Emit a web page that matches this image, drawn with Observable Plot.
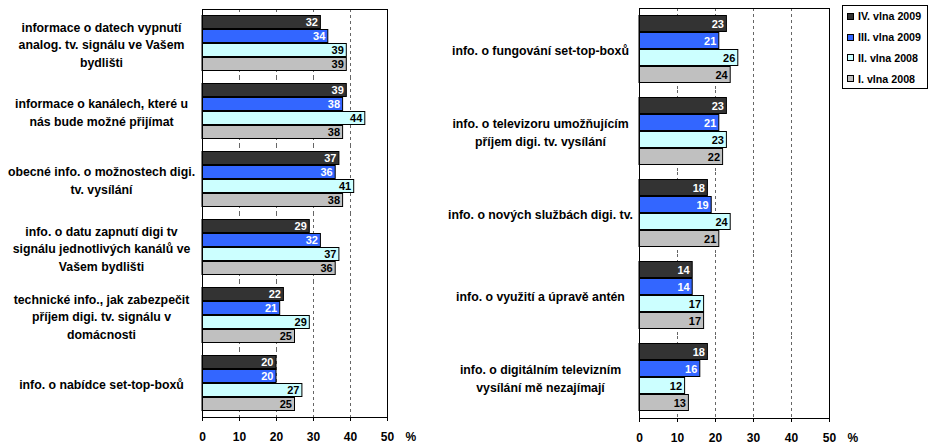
<!DOCTYPE html>
<html><head><meta charset="utf-8">
<script src="https://cdn.jsdelivr.net/npm/d3@7"></script>
<script src="https://cdn.jsdelivr.net/npm/@observablehq/plot@0.6"></script>
<style>
html,body{margin:0;padding:0;background:#fff;}
#wrap{position:relative;width:928px;height:448px;overflow:hidden;font-family:"Liberation Sans",Arial,sans-serif;}
#left{position:absolute;left:0;top:0;}
#right{position:absolute;left:420px;top:0;}
#legend{position:absolute;left:842px;top:5px;width:86px;height:84px;border:1px solid #000;background:#fff;font-weight:bold;font-size:10.7px;box-sizing:border-box;padding-top:0px;}
.item{height:20.8px;display:flex;align-items:center;white-space:nowrap;color:#000;}
.sw{width:5px;height:5px;border:1px solid #000;margin-left:4px;margin-right:4px;flex:none;}
</style></head>
<body><div id="wrap"><div id="left"></div><div id="right"></div><div id="legend"></div></div>
<script>
const series = ["IV. vlna 2009", "III. vlna 2009", "II. vlna 2008", "I. vlna 2008"];
const seriesColors = ["#333333", "#3366ff", "#ccffff", "#c0c0c0"];
const valueLabelColors = ["#ffffff", "#ffffff", "#000000", "#000000"];
const xTicks = [0, 10, 20, 30, 40, 50];
const gridTicks = [10, 20, 30, 40];

const leftCategories = [
  "informace o datech vypnutí\nanalog. tv. signálu ve Vašem\nbydlišti",
  "informace o kanálech, které u\nnás bude možné přijímat",
  "obecné info. o možnostech digi.\ntv. vysílání",
  "info. o datu zapnutí digi tv\nsignálu jednotlivých kanálů ve\nVašem bydlišti",
  "technické info., jak zabezpečit\npříjem digi. tv. signálu v\ndomácnosti",
  "info. o nabídce set-top-boxů"
];
const leftIV  = [32, 39, 37, 29, 22, 20];
const leftIII = [34, 38, 36, 32, 21, 20];
const leftII  = [39, 44, 41, 37, 29, 27];
const leftI   = [39, 38, 38, 36, 25, 25];

const rightCategories = [
  "info. o fungování set-top-boxů",
  "info. o televizoru umožňujícím\npříjem digi. tv. vysílání",
  "info. o nových službách digi. tv.",
  "info. o využití a úpravě antén",
  "info. o digitálním televizním\nvysílání mě nezajímají"
];
const rightIV  = [23, 23, 18, 14, 18];
const rightIII = [21, 21, 19, 14, 16];
const rightII  = [26, 23, 24, 17, 12];
const rightI   = [24, 22, 21, 17, 13];

function boundaryTicks(categories) {
  return Plot.dot(categories, {
    fy: d => d,
    render(index, scales, values, dims) {
      const g = d3.create("svg:g");
      const x0 = dims.marginLeft;
      for (const y of [dims.marginTop, dims.height - dims.marginBottom]) {
        g.append("line").attr("x1", x0 - 4).attr("x2", x0).attr("y1", y).attr("y2", y)
          .attr("stroke", "#000");
      }
      return g.node();
    }
  });
}

function panel(categories, valuesBySeries, {width, marginLeft, marginRight, labelDx}) {
  const rows = categories.flatMap((c, i) => series.map((s, j) => ({category: c, series: s, value: valuesBySeries[j][i], labelColor: valueLabelColors[j]})));
  const last = categories[categories.length - 1];
  return Plot.plot({
    width, height: 448,
    marginTop: 7.5, marginBottom: 29, marginLeft, marginRight,
    style: {fontFamily: "'Liberation Sans', Arial, sans-serif", fontWeight: "bold", background: "#fff", color: "#000", overflow: "visible"},
    x: {domain: [0, 50]},
    y: {domain: series, axis: null, paddingInner: 0.06, paddingOuter: 0.4},
    fy: {domain: categories, padding: 0},
    color: {domain: series, range: seriesColors},
    marks: [
      Plot.ruleX(gridTicks, {stroke: "#666", strokeDasharray: "3,3", strokeWidth: 1}),
      Plot.barX(rows, {fy: "category", y: "series", x: "value", fill: "series", stroke: "#000", strokeWidth: 1}),
      Plot.text(rows, {fy: "category", y: "series", x: "value", text: d => String(d.value), textAnchor: "end", dx: -3, fill: "labelColor", fontSize: 11, fontWeight: "bold"}),
      Plot.frame({facet: "super", stroke: "#000"}),
      boundaryTicks(categories),
      Plot.axisX({ticks: xTicks, tickSize: 4, tickPadding: 11, label: null, fontSize: 12, fontWeight: "bold", tickFormat: d => String(d)}),
      Plot.axisFy({anchor: "left", tickSize: 0, tickPadding: 0, textAnchor: "middle", dx: labelDx, label: null, fontSize: 12.3, fontWeight: "bold", lineHeight: 1.42}),
      Plot.text([last], {fy: d => d, x: () => xTicks[xTicks.length - 1], text: () => "%", frameAnchor: "bottom", lineAnchor: "top", textAnchor: "start", dx: 18, dy: 15, fontSize: 12, fontWeight: "bold"})
    ]
  });
}

document.getElementById("left").append(panel(leftCategories, [leftIV, leftIII, leftII, leftI], {width: 420, marginLeft: 202, marginRight: 33, labelDx: -101}));
document.getElementById("right").append(panel(rightCategories, [rightIV, rightIII, rightII, rightI], {width: 508, marginLeft: 219, marginRight: 99, labelDx: -99}));

const legend = d3.select("#legend");
series.forEach((s, i) => {
  const item = legend.append("div").attr("class", "item");
  item.append("span").attr("class", "sw").style("background", seriesColors[i]);
  item.append("span").text(s);
});
</script></body></html>
